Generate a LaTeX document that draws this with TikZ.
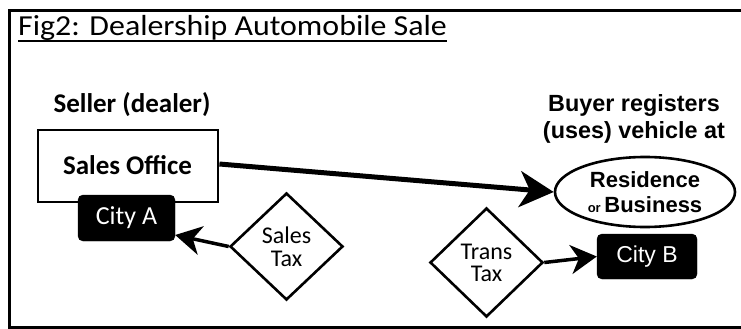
\documentclass[tikz,border=0pt]{standalone}
\usepackage{fontspec}
\setmainfont{Carlito}
\newfontfamily\titlefont[FakeStretch=1.1]{Carlito}
\newfontfamily\arialfont{Liberation Sans}
\usetikzlibrary{shapes.geometric,arrows.meta}
\begin{document}
\begin{tikzpicture}[x=1pt,y=-1pt,
  frame/.style={line width=2.6pt},
  officebox/.style={draw, line width=2.8pt, fill=white, minimum width=180pt, minimum height=72pt, inner sep=0pt,
    font=\fontsize{27}{30}\selectfont\bfseries},
  citybox/.style={draw=black, fill=black, rounded corners=5pt, text=white, inner sep=0pt},
  taxdiamond/.style={diamond, draw, line width=2.6pt, fill=white, inner sep=0pt, align=center},
  placeoval/.style={ellipse, draw, line width=2.6pt, fill=white, minimum width=180pt, minimum height=70pt, inner sep=0pt, align=center},
  bigarrow/.style={line width=5pt, -{Stealth[length=34pt,width=36pt,inset=10pt]}},
  taxarrow/.style={line width=3.5pt, -{Stealth[length=26pt,width=29pt,inset=8pt]}},
  caption/.style={inner sep=0pt, align=center}
]
\useasboundingbox (0,0) rectangle (741,329);
\fill[white] (0,0) rectangle (741,329);
% frame (right side runs off the picture)
\coordinate (ftr) at (745,10.5);
\coordinate (ftl) at (9.5,10.5);
\coordinate (fbl) at (9.5,327.5);
\coordinate (fbr) at (745,327.5);
\draw[frame] (ftr) -- (ftl) -- (fbl) -- (fbr);

% title
\node[anchor=base west, inner sep=0pt] (title) at (18,36)
  {\titlefont\fontsize{29}{32}\selectfont Fig2: Dealership Automobile Sale};
\draw[line width=2pt] ([yshift=-5pt]title.base west) -- ([yshift=-5pt]title.base east);

% seller side
\node[caption, font=\fontsize{27}{30}\selectfont\bfseries] (seller) at (132,105) {Seller (dealer)};
\node[officebox] (office) at (128,166) {};
\node[inner sep=0pt, font=\fontsize{27}{30}\selectfont\bfseries] (officetxt) at (127.5,165) {Sales Office};
\node[citybox, minimum width=97pt, minimum height=46pt, font=\fontsize{26}{30}\selectfont] (citya) at (126.5,218) {City A};
\node[taxdiamond, minimum width=113pt, minimum height=107pt, font=\fontsize{24}{23}\selectfont] (stax) at (286.5,246.5) {Sales\\Tax};

% buyer side
\node[caption, font=\arialfont\fontsize{23.4}{27}\selectfont\bfseries] (buyer) at (634,119)
  {Buyer registers\\(uses) vehicle at};
\node[placeoval, font=\arialfont\fontsize{22}{25}\selectfont\bfseries] (resid) at (645,192)
  {Residence\\{\fontsize{13}{15}\selectfont or }Business};
\node[citybox, minimum width=100pt, minimum height=45pt, font=\arialfont\fontsize{23}{26}\selectfont] (cityb) at (647,256.5) {City B};
\node[taxdiamond, minimum width=113pt, minimum height=109pt, font=\fontsize{24}{22}\selectfont] (ttax) at (486.5,262.5) {Trans\\Tax};

% connectors
\draw[bigarrow] ([yshift=2pt]office.east) -- (resid.west);
\draw[taxarrow] (stax.west) -- ([yshift=-17pt]citya.east);
\draw[taxarrow] (ttax.east) -- (cityb.west);
\end{tikzpicture}
\end{document}
